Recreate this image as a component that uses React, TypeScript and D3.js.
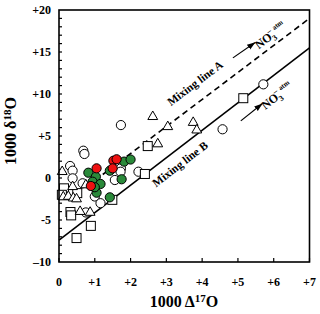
import * as d3 from "d3";

const WIDTH = 320;
const HEIGHT = 314;
const MARGIN = { top: 10, right: 10.5, bottom: 52, left: 59 };

const X_TICKS = [0, 1, 2, 3, 4, 5, 6, 7];
const X_TICK_LABELS = ["0", "+1", "+2", "+3", "+4", "+5", "+6", "+7"];
const Y_TICKS = [-10, -5, 0, 5, 10, 15, 20];
const Y_TICK_LABELS = ["\u201310", "-5", "0", "+5", "+10", "+15", "+20"];

// [Δ17O, δ18O]
const OPEN_CIRCLES: [number, number][] = [
  [1.73, 6.3], [4.57, 5.8], [5.71, 11.15], [0.68, 3.25], [0.71, 2.86],
  [0.31, 1.43], [0.38, 0.87], [0.38, -0.04], [0.66, -0.63], [1.73, 1.15],
  [1.56, -0.24], [2.22, 0.75], [1.0, -2.2], [1.16, -3.0], [0.75, -4.1],
  [1.72, 0.75],
];
const OPEN_SQUARES: [number, number][] = [
  [2.48, 3.8], [5.15, 9.5], [2.4, 0.48], [1.49, -2.6], [0.14, -1.23],
  [0.08, -2.0], [0.51, -1.8], [0.32, -4.05], [0.34, -4.45], [0.89, -5.7],
  [0.49, -7.15],
];
const TRIANGLES: [number, number][] = [
  [2.62, 7.3], [3.04, 6.1], [3.75, 6.6], [3.85, 5.7], [2.76, 4.05],
  [0.09, 0.75], [0.38, -1.04], [0.75, -0.83], [0.12, -2.26], [0.26, -2.2],
  [0.4, -2.4], [0.49, -2.5], [0.59, -4.0], [0.87, -4.1],
];
const GREEN: [number, number][] = [
  [1.82, 1.95], [2.0, 2.2], [0.82, 0.63], [1.03, 0.15], [0.94, -0.44],
  [1.16, -0.71], [1.05, -1.75], [1.42, -2.3], [1.42, 0.87], [1.75, -0.15],
  [1.0, -1.1],
];
const RED: [number, number][] = [
  [1.52, 2.06], [1.61, 2.23], [1.5, 1.15], [1.05, 1.15], [0.89, -0.95],
];

const LINE_A: [number, number][] = [[1.0, -0.3], [7, 19]];
const LINE_B: [number, number][] = [[0, -7.4], [7, 15.5]];

const FONT = "'Liberation Serif', 'Times New Roman', serif";

const rot = (px: number, py: number, a: number) =>
  `translate(${px.toFixed(2)} ${py.toFixed(2)}) rotate(${a.toFixed(2)})`;

export default function App() {
  const innerW = WIDTH - MARGIN.left - MARGIN.right;
  const innerH = HEIGHT - MARGIN.top - MARGIN.bottom;

  const x = d3.scaleLinear().domain([0, 7]).range([MARGIN.left, MARGIN.left + innerW]);
  const y = d3.scaleLinear().domain([-10, 20]).range([MARGIN.top + innerH, MARGIN.top]);

  const line = d3
    .line<[number, number]>()
    .x((d) => x(d[0]))
    .y((d) => y(d[1]));

  const angleOf = (pts: [number, number][]) => {
    const dx = x(pts[1][0]) - x(pts[0][0]);
    const dy = y(pts[1][1]) - y(pts[0][1]);
    return (Math.atan2(dy, dx) * 180) / Math.PI;
  };
  const angA = angleOf(LINE_A);
  const angB = angleOf(LINE_B);

  const triPath = d3.symbol(d3.symbolTriangle, 42)() as string;
  const minorY = d3.range(-9, 20, 1);

  const no3 = (tr: string) => (
    <g transform={tr}>
      <text fontFamily={FONT} fontWeight="bold" fontSize={12}>
        NO<tspan fontSize={8} dy={3}>3</tspan>
        <tspan fontSize={8} dx={-5} dy={-9}>{"\u2013"}</tspan>
        <tspan fontSize={7} dx={3}>atm</tspan>
      </text>
    </g>
  );

  return (
    <svg
      width={WIDTH}
      height={HEIGHT}
      style={{ position: "fixed", left: 0, top: 0, background: "#fff" }}
    >
      <defs>
        <marker id="arr" viewBox="0 0 10 10" refX="9" refY="5" markerWidth="7" markerHeight="7" orient="auto">
          <path d="M0,1.5 L10,5 L0,8.5 Z" fill="#000" />
        </marker>
      </defs>

      {/* ticks inside the frame */}
      {X_TICKS.map((t) => (
        <line key={"xt" + t} x1={x(t)} x2={x(t)} y1={y(-10)} y2={y(-10) - 4} stroke="#000" strokeWidth={1.2} />
      ))}
      {minorY.map((t) => (
        <line key={"yt" + t} x1={x(0)} x2={x(0) + 3} y1={y(t)} y2={y(t)} stroke="#000" strokeWidth={1.2} />
      ))}

      {/* mixing lines */}
      <path d={line(LINE_A) as string} stroke="#000" strokeWidth={1.6} strokeDasharray="6,4" fill="none" />
      <path d={line(LINE_B) as string} stroke="#000" strokeWidth={1.6} fill="none" />

      {/* points */}
      {OPEN_CIRCLES.map((d, i) => (
        <circle key={"oc" + i} cx={x(d[0])} cy={y(d[1])} r={4.6} fill="#fff" stroke="#000" strokeWidth={1} />
      ))}
      {OPEN_SQUARES.map((d, i) => (
        <rect key={"os" + i} x={x(d[0]) - 4.5} y={y(d[1]) - 4.5} width={9} height={9} fill="#fff" stroke="#000" strokeWidth={1} />
      ))}
      {TRIANGLES.map((d, i) => (
        <path key={"tr" + i} d={triPath} transform={`translate(${x(d[0])},${y(d[1])})`} fill="#fff" stroke="#000" strokeWidth={1} />
      ))}
      {GREEN.map((d, i) => (
        <circle key={"g" + i} cx={x(d[0])} cy={y(d[1])} r={4.6} fill="#2a8a3a" stroke="#000" strokeWidth={1} />
      ))}
      {RED.map((d, i) => (
        <circle key={"r" + i} cx={x(d[0])} cy={y(d[1])} r={4.6} fill="#ee1111" stroke="#000" strokeWidth={1} />
      ))}

      {/* annotations */}
      <g transform={rot(x(3.8), y(11.3), angA)}>
        <text textAnchor="middle" dy="0.35em" fontFamily={FONT} fontWeight="bold" fontSize={11.5}>
          Mixing line A
        </text>
      </g>
      <line x1={x(4.86)} y1={y(14.3)} x2={x(5.47)} y2={y(16.1)} stroke="#000" strokeWidth={1.2} markerEnd="url(#arr)" />
      {no3(rot(x(5.58), y(15.3), angA))}

      <g transform={rot(x(3.38), y(1.67), angB)}>
        <text textAnchor="middle" dy="0.35em" fontFamily={FONT} fontWeight="bold" fontSize={11.5}>
          Mixing line B
        </text>
      </g>
      <line x1={x(5.08)} y1={y(6.8)} x2={x(5.67)} y2={y(8.8)} stroke="#000" strokeWidth={1.2} markerEnd="url(#arr)" />
      {no3(rot(x(5.76), y(8.1), angB))}

      {/* frame */}
      <rect x={MARGIN.left} y={MARGIN.top} width={innerW} height={innerH} fill="none" stroke="#000" strokeWidth={1.6} />

      {/* tick labels */}
      {X_TICKS.map((t, i) => (
        <text key={"xl" + t} x={x(t)} y={y(-10) + 24} textAnchor="middle" fontFamily={FONT} fontWeight="bold" fontSize={12}>
          {X_TICK_LABELS[i]}
        </text>
      ))}
      {Y_TICKS.map((t, i) => (
        <text key={"yl" + t} x={x(0) - 8} y={y(t)} dy="0.35em" textAnchor="end" fontFamily={FONT} fontWeight="bold" fontSize={12}>
          {Y_TICK_LABELS[i]}
        </text>
      ))}

      {/* axis titles */}
      <text x={184} y={307} textAnchor="middle" fontFamily={FONT} fontWeight="bold" fontSize={16}>
        1000 Δ<tspan fontSize={11} dy={-5}>17</tspan><tspan dy={5}>O</tspan>
      </text>
      <g transform="translate(16 131) rotate(-90)">
        <text textAnchor="middle" fontFamily={FONT} fontWeight="bold" fontSize={16}>
          1000 δ<tspan fontSize={11} dy={-5}>18</tspan><tspan dy={5}>O</tspan>
        </text>
      </g>
    </svg>
  );
}
